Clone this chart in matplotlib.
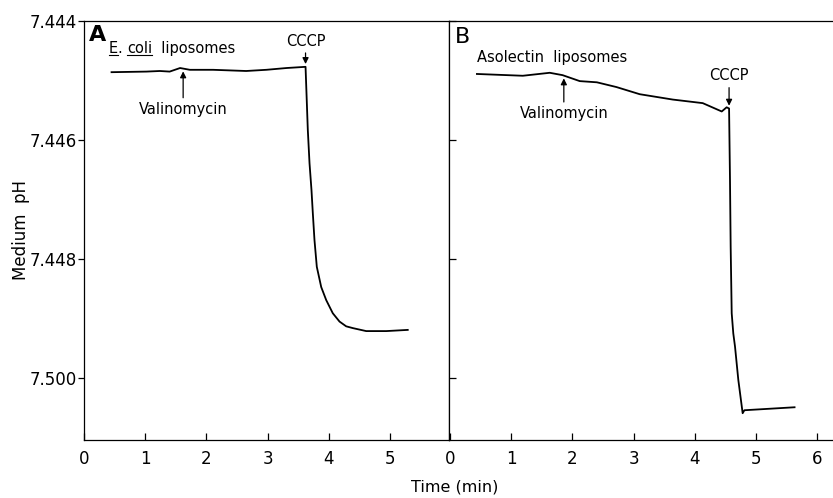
import matplotlib
matplotlib.use('Agg')
import matplotlib.pyplot as plt
import numpy as np
from matplotlib.lines import Line2D

# panel A: E. coli liposomes (time in min, medium pH)
time_a = [0.45, 1.02, 1.24, 1.40, 1.57, 1.73, 2.11, 2.65, 2.98, 3.31, 3.62,
          3.657, 3.685, 3.717, 3.739, 3.766, 3.804, 3.876, 3.958, 4.065, 4.175,
          4.284, 4.393, 4.611, 4.94, 5.29]
ph_a = [7.44486, 7.44485, 7.44484, 7.44485, 7.44479, 7.44482, 7.44482, 7.44484,
        7.44482, 7.44479, 7.44477,
        7.44583, 7.44639, 7.44684, 7.44723, 7.44768, 7.44813, 7.44847, 7.44869,
        7.44891, 7.44905, 7.44913, 7.44916, 7.44921, 7.44921, 7.44919]

# panel B: asolectin liposomes
time_b = [0.44, 1.19, 1.63, 1.84, 2.12, 2.40, 2.72, 3.10, 3.64, 4.13, 4.44, 4.52,
          4.56, 4.575, 4.586, 4.603, 4.629, 4.657, 4.711, 4.782, 4.81, 5.63]
ph_b = [7.44489, 7.44492, 7.44487, 7.44491, 7.44501, 7.44503, 7.44511, 7.44523,
        7.44532, 7.44538, 7.44552, 7.44545,
        7.44547, 7.44667, 7.44779, 7.44891, 7.44925, 7.44947, 7.45003, 7.45059,
        7.45054, 7.45049]

valino_a, cccp_a = 1.62, 3.62
valino_b, cccp_b = 1.86, 4.56

ph_ticks = [7.444, 7.446, 7.448, 7.450]
ph_tick_labels = ['7.444', '7.446', '7.448', '7.500']
time_ticks_a = [0, 1, 2, 3, 4, 5]
time_ticks_b = [0, 1, 2, 3, 4, 5, 6]

W, H = 833, 498
plt.rcParams['font.family'] = ['DejaVu Sans']

fig = plt.figure(figsize=(W / 100, H / 100), dpi=100)
ax_a = fig.add_axes([84 / W, 58 / H, 365 / W, 419 / H])
ax_b = fig.add_axes([449 / W, 58 / H, 384 / W, 419 / H])

px_per_min = 61.2
ax_a.set_xlim(0, 365 / px_per_min)
ax_b.set_xlim(-1 / px_per_min, 383 / px_per_min)
for ax in (ax_a, ax_b):
    ax.set_ylim(7.45104, 7.444)
    ax.set_yticks(ph_ticks)
    for s in ax.spines.values():
        s.set_linewidth(0.9)

ax_a.plot(time_a, ph_a, color='black', lw=1.3)
ax_b.plot(time_b, ph_b, color='black', lw=1.3)

ax_a.set_yticklabels(ph_tick_labels)
ax_a.tick_params(axis='y', direction='out', length=4, pad=1, labelsize=12, width=0.9)
ax_b.tick_params(axis='y', direction='in', length=5, labelleft=False, width=0.9)
ax_b.spines['right'].set_visible(False)

ax_a.set_xticks(time_ticks_a)
ax_b.set_xticks(time_ticks_b)
for ax in (ax_a, ax_b):
    ax.tick_params(axis='x', direction='in', length=5, pad=7, labelsize=12, width=0.9)

ax_a.set_ylabel('Medium  pH', fontsize=12, labelpad=0)
fig.text(455 / W, 1 - 487 / H, 'Time (min)', ha='center', va='center', fontsize=11.5)

# panel letters and labels
ax_a.text(0.014, 0.99, 'A', transform=ax_a.transAxes, fontsize=16, fontweight='bold', va='top')
ax_b.text(0.014, 0.985, 'B', transform=ax_b.transAxes, fontsize=16, va='top')

lab_fs = 10.5
t_e = ax_a.text(0.068, 0.916, 'E', transform=ax_a.transAxes, fontsize=lab_fs, va='bottom')
t_dot = ax_a.annotate('. ', xy=(1, 0), xycoords=t_e, fontsize=lab_fs, va='bottom')
t_coli = ax_a.annotate('coli', xy=(1, 0), xycoords=t_dot, fontsize=lab_fs, va='bottom')
ax_a.annotate('  liposomes', xy=(1, 0), xycoords=t_coli, fontsize=lab_fs, va='bottom')

ax_b.text(0.073, 0.895, 'Asolectin  liposomes', transform=ax_b.transAxes, fontsize=lab_fs, va='bottom')

arrow = dict(arrowstyle='-|>', color='black', lw=0.9, mutation_scale=9, shrinkA=1, shrinkB=2)

ax_a.annotate('CCCP', xy=(cccp_a, np.interp(cccp_a, time_a, ph_a)), xytext=(0, 13),
              textcoords='offset points', ha='center', va='bottom', fontsize=lab_fs, arrowprops=arrow)
ax_a.annotate('Valinomycin', xy=(valino_a, np.interp(valino_a, time_a, ph_a)), xytext=(0, -24),
              textcoords='offset points', ha='center', va='top', fontsize=lab_fs, arrowprops=arrow)
ax_b.annotate('CCCP', xy=(cccp_b, np.interp(cccp_b, time_b, ph_b)), xytext=(0, 18),
              textcoords='offset points', ha='center', va='bottom', fontsize=lab_fs, arrowprops=arrow)
ax_b.annotate('Valinomycin', xy=(valino_b, np.interp(valino_b, time_b, ph_b)), xytext=(0, -22),
              textcoords='offset points', ha='center', va='top', fontsize=lab_fs, arrowprops=arrow)

# underline "E" and "coli"
fig.canvas.draw()
r = fig.canvas.get_renderer()
for t in (t_e, t_coli):
    bb = t.get_window_extent(r)
    y = bb.y0 + 1
    fig.add_artist(Line2D([bb.x0 / W, bb.x1 / W], [y / H, y / H],
                          transform=fig.transFigure, color='black', lw=0.8))

fig.savefig('out.png', dpi=100)
